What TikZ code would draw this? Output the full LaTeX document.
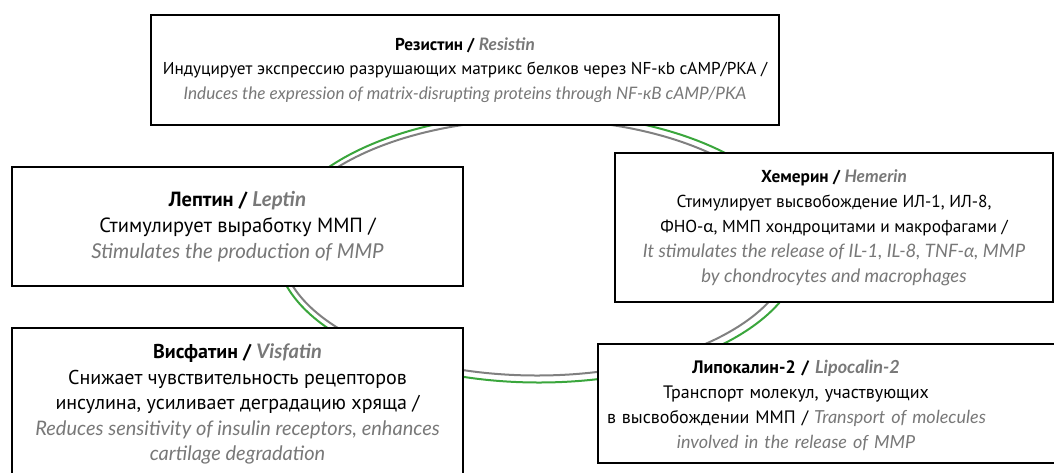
\documentclass[tikz,border=0pt]{standalone}
\usepackage{fontspec}
\setmainfont{PT Sans}
\newfontfamily\enfont{Lato}
\usetikzlibrary{positioning}

\definecolor{engray}{RGB}{120,120,120}
\definecolor{ringgreen}{RGB}{58,166,60}
\definecolor{ringgray}{RGB}{128,128,128}

% English part of a label
\newcommand{\en}[1]{\textcolor{engray}{\enfont\itshape #1}}

\begin{document}
\begin{tikzpicture}[x=1pt, y=-1pt,
    card/.style={draw=black, line width=2.2pt, fill=white, align=center, inner sep=0pt},
    ring/.style={line width=2pt}]
            \useasboundingbox (0,0) rectangle (1054,472);

            % Ring behind the boxes (two lines)
            \draw[ring, ringgreen] (539,248) ellipse [x radius=263pt, y radius=134.5pt];
            \draw[ring, ringgray] (537,247.5) ellipse [x radius=256pt, y radius=128pt];

            % Top box
            \node[card, minimum width=628, minimum height=110, font=\fontsize{17.2}{24.5}\selectfont] (resistin) at (465,70)
                {{\bfseries Резистин / \en{Resistin}}\\
                 Индуцирует экспрессию разрушающих матрикс белков через NF-кb cAMP/PKA /\\
                 \en{Induces the expression of matrix-disrupting proteins through NF-кB cAMP/PKA}};

            % Left boxes
            \node[card, minimum width=451, minimum height=119, font=\fontsize{20.5}{26}\selectfont] (leptin) at (237.5,226.5)
                {{\bfseries Лептин / \en{Leptin}}\\
                 Стимулирует выработку ММП /\\
                 \en{Stimulates the production of MMP}};
            \node[card, minimum width=451, minimum height=152, font=\fontsize{20}{25.5}\selectfont] (visfatin) at (237.5,404)
                {{\bfseries Висфатин / \en{Visfatin}}\\
                 Снижает чувствительность рецепторов\\
                 инсулина, усиливает деградацию хряща /\\
                 \en{Reduces sensitivity of insulin receptors, enhances}\\
                 \en{cartilage degradation}};

            % Right boxes
            \node[card, minimum width=438, minimum height=149, font=\fontsize{17.3}{25}\selectfont] (hemerin) at (834,227.5)
                {{\bfseries Хемерин / \en{Hemerin}}\\
                 Стимулирует высвобождение ИЛ-1, ИЛ-8,\\
                 ФНО-{\enfont α}, ММП хондроцитами и макрофагами /\\
                 {\fontsize{18.5}{25}\selectfont\en{It stimulates the release of IL-1, IL-8, TNF-α, MMP}}\\
                 {\fontsize{18.5}{25}\selectfont\en{by chondrocytes and macrophages}}};
            \node[card, anchor=north west, minimum width=520, minimum height=119] (lipocalinbox) at (597,343) {};
            \node[align=center, inner sep=0pt, text width=378, font=\fontsize{18}{25}\selectfont] (lipocalin) at (796,405.5)
                {{\bfseries Липокалин-2 / \en{Lipocalin-2}}\\
                 Транспорт молекул, участвующих\\
                 \mbox{в высвобождении ММП / \en{Transport of molecules}}\\
                 \en{involved in the release of MMP}};
        \end{tikzpicture}
\end{document}
